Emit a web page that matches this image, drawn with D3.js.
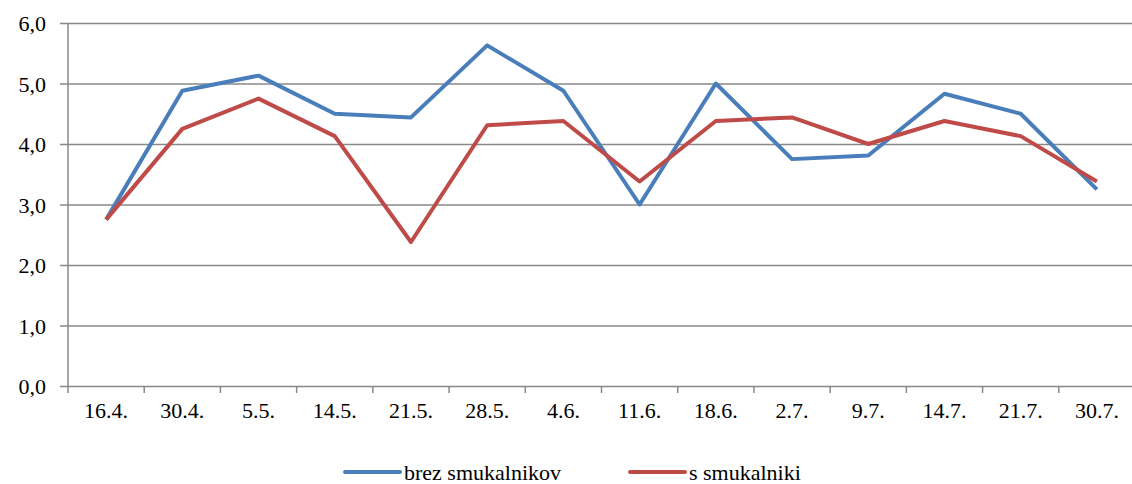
<!DOCTYPE html>
<html>
<head>
<meta charset="utf-8">
<script src="https://cdn.jsdelivr.net/npm/d3@7"></script>
<style>
  body { margin: 0; background: #fff; }
</style>
</head>
<body>
<svg width="1132" height="484"></svg>
<script>
// Data
const dates = ["16.4.", "30.4.", "5.5.", "14.5.", "21.5.", "28.5.", "4.6.", "11.6.", "18.6.", "2.7.", "9.7.", "14.7.", "21.7.", "30.7."]
const brez = [2.75, 4.88, 5.13, 4.5, 4.44, 5.63, 4.88, 3.0, 5.0, 3.75, 3.81, 4.83, 4.5, 3.25]
const sSmuk = [2.75, 4.25, 4.75, 4.13, 2.38, 4.31, 4.38, 3.38, 4.38, 4.44, 4.0, 4.38, 4.13, 3.38]
const yTicks = [0, 1, 2, 3, 4, 5, 6]

const series = [
    { name: "brez smukalnikov", values: brez, color: "#4A7EBB" },
    { name: "s smukalniki", values: sSmuk, color: "#BE4B48" }
]

const FONT = "Liberation Serif, Times New Roman, DejaVu Serif, serif"

const svg = d3.select("svg")
const plotLeft = 68, plotRight = 1135, plotTop = 23, plotBottom = 386

// Scales
const x = d3.scaleBand().domain(dates).range([plotLeft, plotRight])
const y = d3.scaleLinear().domain([0, 6]).range([plotBottom, plotTop])

// Gridlines + y axis
const yAxis = svg.append("g")
    .attr("transform", `translate(${plotLeft},0)`)
    .call(d3.axisLeft(y).tickValues(yTicks).tickSize(-(1132 - plotLeft)).tickSizeOuter(0)
        .tickFormat(d => d3.format(".1f")(d).replace(".", ",")))
    .attr("font-family", FONT).attr("font-size", 22)
yAxis.select(".domain").remove()
yAxis.selectAll(".tick line").attr("x1", -8).attr("stroke", "#888").attr("stroke-width", 1.5)
yAxis.selectAll(".tick text").attr("x", -22).attr("dy", "0.35em").attr("fill", "#000")

// y axis line
svg.append("line")
    .attr("x1", plotLeft).attr("x2", plotLeft)
    .attr("y1", plotTop).attr("y2", plotBottom)
    .attr("stroke", "#888").attr("stroke-width", 1.5)

// x axis
const xAxis = svg.append("g")
    .attr("transform", `translate(0,${plotBottom})`)
    .call(d3.axisBottom(x).tickSize(0))
    .attr("font-family", FONT).attr("font-size", 22)
xAxis.select(".domain").remove()
xAxis.selectAll(".tick text").attr("y", 16).attr("dy", "0.71em").attr("fill", "#000")

// boundary tick marks between categories
svg.append("g").selectAll("line")
    .data(dates)
    .join("line")
    .attr("x1", d => x(d)).attr("x2", d => x(d))
    .attr("y1", plotBottom).attr("y2", plotBottom + 7)
    .attr("stroke", "#888").attr("stroke-width", 1.5)

// Lines
const line = d3.line()
    .x((d, i) => x(dates[i]) + x.bandwidth() / 2)
    .y(d => y(d))

svg.append("g").selectAll("path")
    .data(series)
    .join("path")
    .attr("fill", "none")
    .attr("stroke", d => d.color)
    .attr("stroke-width", 4)
    .attr("stroke-linejoin", "round")
    .attr("d", d => line(d.values))

// Legend
const legendPos = [345, 630]
const legend = svg.append("g").selectAll("g")
    .data(series)
    .join("g")
    .attr("transform", (d, i) => `translate(${legendPos[i]},472)`)
legend.append("line")
    .attr("x1", 0).attr("x2", 55)
    .attr("stroke", d => d.color)
    .attr("stroke-width", 4)
    .attr("stroke-linecap", "round")
legend.append("text")
    .attr("x", 59).attr("dy", "0.35em")
    .attr("font-family", FONT).attr("font-size", 22)
    .text(d => d.name)
</script>
</body>
</html>
